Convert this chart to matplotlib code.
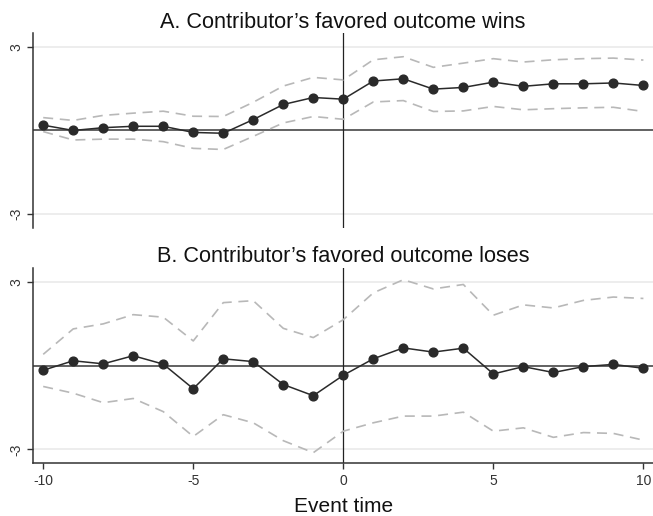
import matplotlib
matplotlib.use("Agg")
import matplotlib.pyplot as plt

plt.rcParams['font.family'] = ['Liberation Sans', 'DejaVu Sans']

event_time = list(range(-10, 11))

wins_est = [0.19, 0.00, 0.10, 0.15, 0.15, -0.07, -0.10, 0.39, 0.93, 1.18, 1.12,
            1.77, 1.85, 1.48, 1.54, 1.73, 1.58, 1.67, 1.67, 1.70, 1.61]
wins_hi = [0.46, 0.36, 0.54, 0.62, 0.69, 0.51, 0.50, 1.01, 1.59, 1.90, 1.81,
           2.53, 2.64, 2.26, 2.41, 2.57, 2.45, 2.53, 2.57, 2.59, 2.52]
wins_lo = [-0.04, -0.34, -0.31, -0.31, -0.40, -0.64, -0.68, -0.21, 0.27, 0.50, 0.40,
           1.02, 1.07, 0.68, 0.70, 0.86, 0.74, 0.78, 0.81, 0.83, 0.68]

loses_est = [-0.17, 0.17, 0.06, 0.35, 0.05, -0.83, 0.24, 0.14, -0.68, -1.08, -0.35,
             0.24, 0.63, 0.48, 0.62, -0.30, -0.04, -0.25, -0.04, 0.04, -0.10]
loses_hi = [0.40, 1.31, 1.49, 1.82, 1.73, 0.88, 2.25, 2.32, 1.33, 1.00, 1.64,
            2.60, 3.07, 2.74, 2.90, 1.80, 2.17, 2.06, 2.33, 2.45, 2.40]
loses_lo = [-0.75, -0.99, -1.33, -1.18, -1.65, -2.54, -1.76, -2.05, -2.69, -3.12, -2.35,
            -2.05, -1.81, -1.81, -1.67, -2.35, -2.23, -2.57, -2.40, -2.43, -2.67]

titles = ["A. Contributor\u2019s favored outcome wins",
          "B. Contributor\u2019s favored outcome loses"]
yticks = [-3, 3]
xticks = [-10, -5, 0, 5, 10]
xlabel = "Event time"

fig = plt.figure(figsize=(6.53, 5.16), dpi=100)
axA = fig.add_axes([0.051, 0.5576, 0.949, 0.378])
axB = fig.add_axes([0.051, 0.1021, 0.949, 0.378])

panels = [(axA, wins_est, wins_hi, wins_lo, titles[0], 4.0),
          (axB, loses_est, loses_hi, loses_lo, titles[1], 4.8)]

for ax, est, hi, lo, title, tpad in panels:
    ax.set_xlim(-10.33, 10.32)
    ax.set_ylim(-3.5, 3.48)
    for yv in yticks:
        ax.axhline(yv, color='#ececec', lw=1.3, zorder=0)
    ax.axhline(0, color='#555555', lw=1.3, zorder=1)
    ax.axvline(0, color='#222222', lw=0.9, zorder=1)
    ax.plot(event_time, hi, color='#b8b8b8', lw=1.2, dashes=(6, 4), zorder=2)
    ax.plot(event_time, lo, color='#b8b8b8', lw=1.2, dashes=(6, 4), zorder=2)
    ax.plot(event_time, est, color='#2a2a2a', lw=1.1, marker='o', ms=6.3,
            markerfacecolor='#2a2a2a', markeredgecolor='#2a2a2a', zorder=3)
    ax.set_yticks(yticks)
    ax.set_yticklabels([str(v) for v in yticks], rotation=90, va='center',
                       fontsize=10, color='#333333')
    ax.tick_params(axis='y', length=4, width=1, color='#333333', pad=3)
    ax.set_title(title, fontsize=15.6, pad=tpad, color='#111111')
    for s in ['top', 'right']:
        ax.spines[s].set_visible(False)
    ax.spines['left'].set_color('#333333')
    ax.spines['left'].set_linewidth(1.1)

axA.spines['bottom'].set_visible(False)
axA.set_xticks([])

axB.spines['bottom'].set_color('#333333')
axB.spines['bottom'].set_linewidth(1.1)
axB.set_xticks(xticks)
axB.set_xticklabels([str(v) for v in xticks], fontsize=10, color='#333333')
axB.tick_params(axis='x', length=4, width=1, color='#333333', pad=4)
axB.set_xlabel(xlabel, fontsize=15, color='#111111', labelpad=6)

fig.savefig("out.png", dpi=100)
